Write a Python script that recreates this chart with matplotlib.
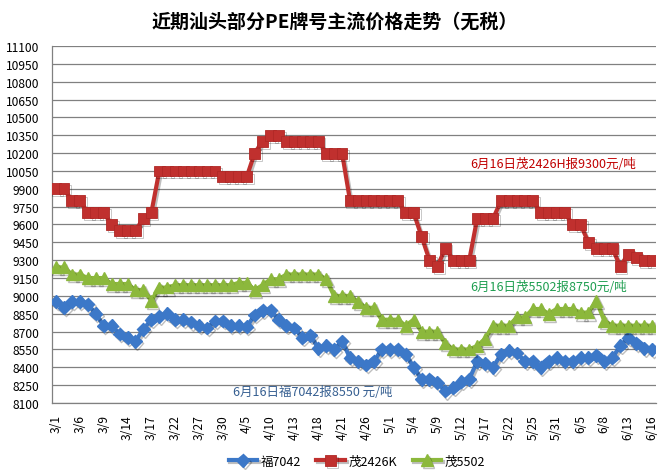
import matplotlib
matplotlib.use('Agg')
import matplotlib.pyplot as plt
import matplotlib.patheffects as pe
import numpy as np

plt.rcParams['font.family'] = ['Noto Sans CJK SC', 'DejaVu Sans']

dates = ['3/1', '3/2', '3/3', '3/6', '3/7', '3/8', '3/9', '3/10', '3/13', '3/14',
         '3/15', '3/16', '3/17', '3/20', '3/21', '3/22', '3/23', '3/24', '3/27', '3/28',
         '3/29', '3/30', '3/31', '4/1', '4/5', '4/6', '4/7', '4/10', '4/11', '4/12',
         '4/13', '4/14', '4/17', '4/18', '4/19', '4/20', '4/21', '4/24', '4/25', '4/26',
         '4/27', '4/28', '5/1', '5/2', '5/3', '5/4', '5/5', '5/8', '5/9', '5/10',
         '5/11', '5/12', '5/15', '5/16', '5/17', '5/18', '5/19', '5/22', '5/23', '5/24',
         '5/25', '5/26', '5/27', '5/31', '6/1', '6/2', '6/5', '6/6', '6/7', '6/8',
         '6/9', '6/12', '6/13', '6/14', '6/15', '6/16']

fu7042 = [8950, 8900, 8950, 8950, 8930, 8850, 8750, 8750, 8680, 8650,
          8620, 8720, 8800, 8830, 8850, 8800, 8800, 8780, 8750, 8730,
          8790, 8790, 8750, 8750, 8740, 8840, 8880, 8880, 8800, 8750,
          8730, 8650, 8670, 8560, 8580, 8550, 8620, 8480, 8450, 8420,
          8450, 8550, 8550, 8550, 8510, 8400, 8300, 8300, 8270, 8200,
          8230, 8280, 8300, 8450, 8430, 8400, 8510, 8540, 8520, 8450,
          8450, 8400, 8450, 8480, 8450, 8450, 8480, 8480, 8500, 8450,
          8480, 8580, 8650, 8600, 8560, 8550]

mao2426k = [9900, 9900, 9800, 9800, 9700, 9700, 9700, 9600, 9550, 9550,
            9550, 9650, 9700, 10050, 10050, 10050, 10050, 10050, 10050, 10050,
            10050, 10000, 10000, 10000, 10000, 10200, 10300, 10350, 10350, 10300,
            10300, 10300, 10300, 10300, 10200, 10200, 10200, 9800, 9800, 9800,
            9800, 9800, 9800, 9800, 9700, 9700, 9500, 9300, 9250, 9400,
            9300, 9300, 9300, 9650, 9650, 9650, 9800, 9800, 9800, 9800,
            9800, 9700, 9700, 9700, 9700, 9600, 9600, 9450, 9400, 9400,
            9400, 9250, 9350, 9320, 9300, 9300]

mao5502 = [9240, 9240, 9180, 9180, 9150, 9150, 9150, 9100, 9100, 9100,
           9050, 9050, 8960, 9070, 9070, 9090, 9090, 9090, 9090, 9090,
           9090, 9090, 9090, 9110, 9110, 9050, 9090, 9140, 9140, 9180,
           9180, 9180, 9180, 9180, 9140, 9000, 9000, 9000, 8950, 8900,
           8900, 8800, 8800, 8800, 8750, 8800, 8700, 8700, 8700, 8600,
           8550, 8550, 8550, 8580, 8640, 8750, 8750, 8750, 8820, 8820,
           8890, 8890, 8850, 8890, 8890, 8890, 8860, 8860, 8960, 8790,
           8750, 8750, 8750, 8750, 8750, 8750]

series_names = ['福7042', '茂2426K', '茂5502']
yticks = [8100, 8250, 8400, 8550, 8700, 8850, 9000, 9150, 9300, 9450, 9600,
          9750, 9900, 10050, 10200, 10350, 10500, 10650, 10800, 10950, 11100]

title = '近期汕头部分PE牌号主流价格走势（无税）'
notes = ['6月16日茂2426H报9300元/吨', '6月16日茂5502报8750元/吨', '6月16日福7042报8550 元/吨']

W, H = 668, 477
fig = plt.figure(figsize=(W / 100, H / 100), dpi=100)
fig.patch.set_facecolor('white')
ax = fig.add_axes([52 / W, 1 - 404 / H, (656 - 52) / W, (404 - 47) / H])

x = np.arange(len(dates))
shadow = [pe.SimpleLineShadow(offset=(1.2, -1.5), alpha=0.25, shadow_color='black'), pe.Normal()]

ax.plot(x, fu7042, color='#3C78C8', lw=3.0, marker='D', ms=6.5,
        markeredgecolor='#3C78C8', label=series_names[0], path_effects=shadow, zorder=3)
ax.plot(x, mao2426k, color='#C0302E', lw=3.0, marker='s', ms=7.8,
        markeredgecolor='#B02826', markeredgewidth=0.6, label=series_names[1], path_effects=shadow, zorder=3)
ax.plot(x, mao5502, color='#8CB83C', lw=3.0, marker='^', ms=8.5,
        markeredgecolor='#8CB83C', label=series_names[2], path_effects=shadow, zorder=3)

ax.set_xlim(-0.5, len(dates) - 0.5)
ax.set_ylim(yticks[0], yticks[-1])
ax.set_yticks(yticks)
ax.set_yticklabels([str(v) for v in yticks], fontsize=8.7)
ax.set_xticks(x[::3])
ax.set_xticklabels(dates[::3], rotation=90, fontsize=8.7)
ax.tick_params(axis='y', length=0, pad=9)
ax.tick_params(axis='x', length=0, pad=8)
ax.grid(axis='y', color='#808080', lw=0.9)
ax.set_axisbelow(True)
for s in ['top', 'right']:
    ax.spines[s].set_visible(False)
for s in ['left', 'bottom']:
    ax.spines[s].set_color('#808080')
    ax.spines[s].set_linewidth(0.9)

fig.text(335 / W, 1 - 22 / H, title, ha='center', va='center', fontsize=13.7, fontweight='bold')
fig.text(553 / W, 1 - 165 / H, notes[0], ha='center', va='center', fontsize=9, color='#C00000')
fig.text(549 / W, 1 - 288 / H, notes[1], ha='center', va='center', fontsize=9, color='#1E9E50')
fig.text(313 / W, 1 - 393 / H, notes[2], ha='center', va='center', fontsize=9, color='#365F91')

fig.legend(loc='center', bbox_to_anchor=(357 / W, 1 - 462 / H), ncol=3, frameon=False,
           fontsize=9, handlelength=2.3, columnspacing=1.2, handletextpad=0.3)

fig.savefig('out.png', dpi=100)
